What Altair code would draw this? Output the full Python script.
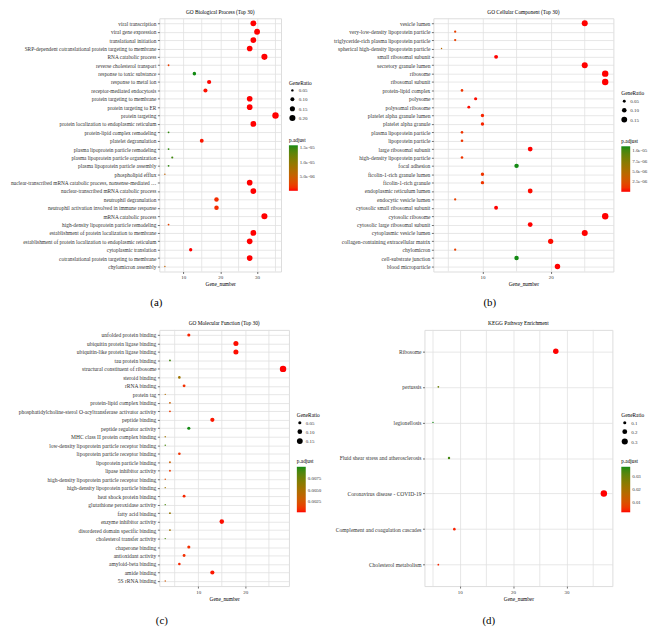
import altair as alt
import pandas as pd

FONT = "Liberation Serif"

# ---------------- (a) GO Biological Process ----------------
bp_terms = [
    "viral transcription", "viral gene expression", "translational initiation",
    "SRP-dependent cotranslational protein targeting to membrane", "RNA catabolic process",
    "reverse cholesterol transport", "response to toxic substance", "response to metal ion",
    "receptor-mediated endocytosis", "protein targeting to membrane", "protein targeting to ER",
    "protein targeting", "protein localization to endoplasmic reticulum",
    "protein-lipid complex remodeling", "platelet degranulation",
    "plasma lipoprotein particle remodeling", "plasma lipoprotein particle organization",
    "plasma lipoprotein particle assembly", "phospholipid efflux",
    "nuclear-transcribed mRNA catabolic process, nonsense-mediated decay",
    "nuclear-transcribed mRNA catabolic process", "neutrophil degranulation",
    "neutrophil activation involved in immune response", "mRNA catabolic process",
    "high-density lipoprotein particle remodeling",
    "establishment of protein localization to membrane",
    "establishment of protein localization to endoplasmic reticulum",
    "cytoplasmic translation", "cotranslational protein targeting to membrane",
    "chylomicron assembly",
]
bp_counts = [29, 30, 29, 28, 32, 6, 13, 17, 16, 28, 28, 35, 29, 6, 15, 6, 7, 6, 5, 28,
             29, 19, 19, 32, 6, 29, 28, 12, 28, 5]
bp_padj = [2e-10, 2e-10, 2e-10, 2e-10, 2e-10, 2.0e-06, 1.57e-05, 5e-08, 2e-07, 2e-10,
           2e-10, 2e-10, 2e-10, 1.5e-05, 3e-07, 1.5e-05, 1.45e-05, 1.5e-05, 5.5e-06, 2e-10,
           2e-10, 1e-06, 1e-06, 2e-10, 2.5e-06, 2e-10, 2e-10, 2e-10, 2e-10, 5.5e-06]
bp_total = 158

# ---------------- (b) GO Cellular Component ----------------
cc_terms = [
    "vesicle lumen", "very-low-density lipoprotein particle",
    "triglyceride-rich plasma lipoprotein particle",
    "spherical high-density lipoprotein particle", "small ribosomal subunit",
    "secretory granule lumen", "ribosome", "ribosomal subunit", "protein-lipid complex",
    "polysome", "polysomal ribosome", "platelet alpha granule lumen", "platelet alpha granule",
    "plasma lipoprotein particle", "lipoprotein particle", "large ribosomal subunit",
    "high-density lipoprotein particle", "focal adhesion", "ficolin-1-rich granule lumen",
    "ficolin-1-rich granule", "endoplasmic reticulum lumen", "endocytic vesicle lumen",
    "cytosolic small ribosomal subunit", "cytosolic ribosome",
    "cytosolic large ribosomal subunit", "cytoplasmic vesicle lumen",
    "collagen-containing extracellular matrix", "chylomicron", "cell-substrate junction",
    "blood microparticle",
]
cc_counts = [25, 6, 6, 4, 12, 25, 28, 28, 7, 9, 8, 10, 10, 7, 7, 17, 7, 15, 10, 10, 17, 6,
             12, 28, 17, 25, 20, 6, 15, 21]
cc_padj = [1e-08, 1.5e-06, 1.5e-06, 4.5e-06, 5e-09, 1e-08, 1e-12, 1e-12, 1e-06, 1e-07,
           1e-07, 5e-07, 5e-07, 1e-06, 1e-06, 1e-10, 1e-06, 1.1e-05, 1e-06, 1e-06, 1e-07,
           1.5e-06, 1e-09, 1e-12, 1e-10, 1e-08, 1e-07, 1.5e-06, 1.1e-05, 1e-08]
cc_total = 158

# ---------------- (c) GO Molecular Function ----------------
mf_terms = [
    "unfolded protein binding", "ubiquitin protein ligase binding",
    "ubiquitin-like protein ligase binding", "tau protein binding",
    "structural constituent of ribosome", "steroid binding", "rRNA binding", "protein tag",
    "protein-lipid complex binding",
    "phosphatidylcholine-sterol O-acyltransferase activator activity", "peptide binding",
    "peptide regulator activity", "MHC class II protein complex binding",
    "low-density lipoprotein particle receptor binding",
    "lipoprotein particle receptor binding", "lipoprotein particle binding",
    "lipase inhibitor activity", "high-density lipoprotein particle receptor binding",
    "high-density lipoprotein particle binding", "heat shock protein binding",
    "glutathione peroxidase activity", "fatty acid binding", "enzyme inhibitor activity",
    "disordered domain specific binding", "cholesterol transfer activity",
    "chaperone binding", "antioxidant activity", "amyloid-beta binding", "amide binding",
    "5S rRNA binding",
]
mf_counts = [8, 18, 18, 4, 28, 6, 7, 3, 4, 4, 13, 8, 3, 3, 6, 4, 4, 3, 3, 7, 3, 4, 15, 4,
             3, 8, 7, 6, 13, 3]
mf_padj = [0.0005, 0.0002, 0.0002, 0.0092, 0.0001, 0.0055, 0.0008, 0.0045, 0.0032, 0.0012,
           0.0003, 0.0100, 0.0055, 0.0090, 0.0009, 0.0032, 0.0012, 0.0020, 0.0055, 0.0006,
           0.0090, 0.0058, 0.0002, 0.0052, 0.0090, 0.0008, 0.0008, 0.0006, 0.0003, 0.0028]
mf_total = 158

# ---------------- (d) KEGG ----------------
kegg_terms = [
    "Ribosome", "pertussis", "legionellosis", "Fluid shear stress and atherosclerosis",
    "Coronavirus disease - COVID-19", "Complement and coagulation cascades",
    "Cholesterol metabolism",
]
kegg_counts = [28, 6, 5, 8, 37, 9, 6]
kegg_padj = [0.0022, 0.029, 0.037, 0.034, 0.0022, 0.0035, 0.0040]
kegg_total = 113

LOW = "#FF0000"
HIGH = "#138A13"
GRID = "#E0E0E0"
TXT = "#333333"


def panel(terms, counts, padj, total, title, caption, w, h, major, minor,
          size_vals, size_fmt, col_vals, col_expr, lx, ly_size, ly_col,
          label_limit, label_size, cap_xy, markers):
    ratio = [c / total for c in counts]
    df = pd.DataFrame({"Description": terms, "Gene_number": counts,
                       "GeneRatio": ratio, "padj": padj})
    lo, hi = min(counts), max(counts)
    ext = 0.05 * (hi - lo)
    xscale = alt.Scale(domain=[lo - ext, hi + ext], nice=False, zero=False)

    rules = alt.Chart(pd.DataFrame({"Gene_number": minor})).mark_rule(
        color=GRID, strokeWidth=0.8).encode(x=alt.X("Gene_number:Q", scale=xscale))

    pts = alt.Chart(df).mark_circle(opacity=1).encode(
        x=alt.X("Gene_number:Q", scale=xscale,
                axis=alt.Axis(values=major, title="Gene_number", titleFont=FONT,
                              titleFontSize=5.4, titleFontWeight="normal",
                              titleColor="black", titlePadding=2, labelFont=FONT,
                              labelFontSize=5, labelColor=TXT, tickSize=2,
                              tickColor=TXT, tickWidth=0.7, labelPadding=1.5,
                              domain=False, grid=True, gridColor=GRID, gridWidth=0.8)),
        y=alt.Y("Description:N", sort=terms,
                scale=alt.Scale(type="point", padding=0.6),
                axis=alt.Axis(title=None, labelFont=FONT, labelFontSize=label_size,
                              labelColor=TXT, labelLimit=label_limit, tickSize=2,
                              tickColor=TXT, tickWidth=0.7, labelPadding=1.5,
                              domain=False, grid=True, gridColor=GRID, gridWidth=0.8)),
        size=alt.Size("GeneRatio:Q",
                      scale=alt.Scale(domain=[min(ratio), max(ratio)], range=[2, 42],
                                      zero=False),
                      legend=alt.Legend(title="GeneRatio", orient="none", legendX=lx,
                                        legendY=ly_size, values=size_vals,
                                        format=size_fmt, titleFont=FONT,
                                        titleFontSize=5.4, titleFontWeight="normal",
                                        titleColor="black", titlePadding=2,
                                        labelFont=FONT, labelFontSize=5,
                                        labelColor=TXT, symbolFillColor="black",
                                        symbolStrokeWidth=0, symbolType="circle",
                                        symbolOpacity=1, rowPadding=3,
                                        labelOffset=3)),
        color=alt.Color("padj:Q",
                        scale=alt.Scale(domain=[min(padj), max(padj)], range=[LOW, HIGH],
                                        interpolate="lab"),
                        legend=alt.Legend(title="p.adjust", orient="none", legendX=lx,
                                          legendY=ly_col, values=col_vals,
                                          labelExpr=col_expr, titleFont=FONT,
                                          titleFontSize=5.4, titleFontWeight="normal",
                                          titleColor="black", titlePadding=2,
                                          labelFont=FONT, labelFontSize=5,
                                          labelColor=TXT, gradientLength=46,
                                          gradientThickness=9, gradientStrokeWidth=0,
                                          direction="vertical", labelOffset=2)),
    )

    cap = alt.Chart(pd.DataFrame({"t": [caption]})).mark_text(
        font=FONT, fontSize=11, color="black").encode(
        text="t:N", x=alt.value(cap_xy[0]), y=alt.value(cap_xy[1]))

    layers = [rules, pts, cap]
    for mx, my in markers:
        layers.append(alt.Chart(pd.DataFrame({"k": [0]})).mark_point(
            size=1, filled=True, opacity=0).encode(x=alt.value(mx), y=alt.value(my)))

    return alt.layer(*layers).properties(
        width=w, height=h,
        title=alt.TitleParams(title, font=FONT, fontSize=5.4, fontWeight="normal",
                              color="black", offset=3, frame="group", anchor="middle"))


sci = "replace(format(datum.value, '.1e'), 'e-', 'e-0')"

A = panel(bp_terms, bp_counts, bp_padj, bp_total, "GO Biological Process (Top 30)", "(a)",
          123, 256, [10, 20, 30], [5, 15, 25, 35], [0.05, 0.10, 0.15, 0.20], ".2f",
          [5e-06, 1e-05, 1.5e-05], sci, 131, 63, 121, 150, 5.4, (-3, 288),
          [(-152, 130), (0, 295)])
B = panel(cc_terms, cc_counts, cc_padj, cc_total, "GO Cellular Component (Top 30)", "(b)",
          182, 256, [10, 20], [5, 15, 25], [0.05, 0.10, 0.15], ".2f",
          [2.5e-06, 5e-06, 7.5e-06, 1e-05], sci, 190, 74, 122, 140, 5.6, (57, 288), [])
C = panel(mf_terms, mf_counts, mf_padj, mf_total, "GO Molecular Function (Top 30)", "(c)",
          131, 259, [10, 20], [5, 15, 25], [0.05, 0.10, 0.15], ".2f",
          [0.0025, 0.005, 0.0075], "format(datum.value, '.4f')", 139, 84, 131, 148, 5.6,
          (2.5, 294), [])
D = panel(kegg_terms, kegg_counts, kegg_padj, kegg_total, "KEGG Pathway Enrichment", "(d)",
          190, 259, [10, 20, 30], [5, 15, 25, 35], [0.1, 0.2, 0.3], ".1f",
          [0.01, 0.02, 0.03], "format(datum.value, '.2f')", 199, 84, 131, 140, 5.6,
          (65, 294), [])

res = dict(x="independent", y="independent", color="independent", size="independent")
row1 = alt.hconcat(A, B, spacing=154, bounds="flush").resolve_scale(**res).resolve_legend(
    color="independent", size="independent")
row2 = alt.hconcat(C, D, spacing=137, bounds="flush").resolve_scale(**res).resolve_legend(
    color="independent", size="independent")

chart = alt.concat(row1, row2, columns=1, spacing=9, align="none", bounds="full") \
    .resolve_scale(**res).resolve_legend(color="independent", size="independent") \
    .properties(padding={"left": 0, "top": -3, "right": 0, "bottom": 0}) \
    .configure_view(stroke="#333333", strokeWidth=0.9) \
    .configure(background="white")

chart.save("out.html", embed_options={"renderer": "svg", "actions": False})
